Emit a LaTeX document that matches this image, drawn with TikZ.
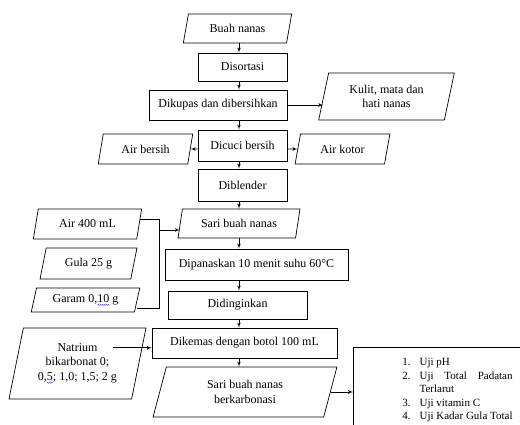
\documentclass[tikz,border=0pt]{standalone}
\usepackage{fontspec}
\setmainfont{Liberation Serif}
\usepackage{tikz}
\usetikzlibrary{shapes.geometric}
\usetikzlibrary{arrows}
\usetikzlibrary{calc}
\usetikzlibrary{decorations.pathmorphing}
\newsavebox{\squigbox}
\newcommand{\squig}[1]{\sbox{\squigbox}{#1}\rlap{\tikz[baseline=0pt]
    \draw[blue!80,line width=0.4pt,decorate,decoration={snake,amplitude=0.5pt,segment length=2pt}]
    (0pt,-2.5pt) -- (\wd\squigbox,-2.5pt);}\usebox{\squigbox}}

\begin{document}
\begin{tikzpicture}[x=1pt,y=-1pt,line width=0.7pt]

\tikzset{
    procbox/.style={rectangle,draw,font=\boxfont,inner sep=2pt},
    databox/.style={trapezium,trapezium left angle=76,trapezium right angle=104,
        trapezium stretches=true,draw,font=\boxfont,align=center,inner sep=2pt},
    edge/.style={->,> = latex'}
}
% variables
\def\boxfont{\fontsize{12}{14.5}\selectfont}
\def\listfont{\fontsize{11}{13.5}\selectfont}

\useasboundingbox (0,0) rectangle (520,425);
\clip (0,0) rectangle (520,425);
\coordinate (spine) at (239,0);

% ----------- main column ----------- %
\node[databox, minimum width=109pt, minimum height=29pt] (buah) at (237.5,28.5) {Buah nanas};
\node[procbox, minimum width=89pt, minimum height=28pt] (disortasi) at (242.5,67) {Disortasi};
\node[procbox, minimum width=138pt, minimum height=30pt] (dikupas) at (218,105) {Dikupas dan dibersihkan};
\node[procbox, minimum width=89pt, minimum height=31pt] (dicuci) at (242.5,145.5) {Dicuci bersih};
\node[procbox, minimum width=89pt, minimum height=32pt] (diblender) at (242.5,185) {Diblender};
\node[databox, minimum width=122pt, minimum height=29pt] (sari) at (239,223.5) {Sari buah nanas};
\node[procbox, minimum width=183pt, minimum height=31pt] (dipanaskan) at (256.5,264.5) {Dipanaskan 10 menit suhu 60°C};
\node[procbox, minimum width=139pt, minimum height=28pt] (didinginkan) at (237.5,305) {Didinginkan};
\node[procbox, minimum width=185pt, minimum height=30pt] (dikemas) at (244.5,343) {Dikemas dengan botol 100 mL};
\node[databox, minimum width=184pt, minimum height=50pt] (sariberk) at (245,392) {Sari buah nanas\\berkarbonasi};

% ----------- side boxes ----------- %
\node[databox, minimum width=137pt, minimum height=47pt] (kulit) at (386.5,96.5) {Kulit, mata dan\\hati nanas};
\node[databox, minimum width=95pt, minimum height=30pt] (airbersih) at (145.5,149) {Air bersih};
\node[databox, minimum width=95pt, minimum height=30pt] (airkotor) at (342.5,149) {Air kotor};
\node[databox, minimum width=109pt, minimum height=30pt] (air400) at (87.5,224) {Air 400 mL};
\node[databox, minimum width=97pt, minimum height=31pt] (gula) at (88.5,263.5) {Gula 25 g};
\node[databox, minimum width=109pt, minimum height=24pt] (garam) at (85.5,300) {Garam 0,\squig{10} g};
\node[databox, minimum width=137pt, minimum height=71pt] (natrium) at (77.5,363.5) {Natrium\\bikarbonat 0;\\0,\squig{5}; 1,0; 1,5; 2 g};

% ----------- analyses ----------- %
\node[procbox, anchor=north west, minimum width=200pt, minimum height=120pt] (uji) at (353,347) {};
\node[anchor=north west, inner sep=0pt, font=\listfont] (ujilist) at (402,356) {%
    \begin{tabular}{@{}l@{\hspace{9pt}}p{93pt}@{}}
    1. & Uji pH\\
    2. & Uji\hfill Total\hfill Padatan\newline Terlarut\\
    3. & Uji vitamin C\\
    4. & Uji Kadar Gula Total
    \end{tabular}};

% vertical edges
\draw[edge] (buah.south -| spine) -- (disortasi.north -| spine);
\draw[edge] (disortasi.south -| spine) -- (dikupas.north -| spine);
\draw[edge] (dikupas.south -| spine) -- (dicuci.north -| spine);
\draw[edge] (dicuci.south -| spine) -- (diblender.north -| spine);
\draw[edge] (diblender.south -| spine) -- (sari.north -| spine);
\draw[edge] (sari.south -| spine) -- (dipanaskan.north -| spine);
\draw[edge] (dipanaskan.south -| spine) -- (didinginkan.north -| spine);
\draw[edge] (didinginkan.south -| spine) -- (dikemas.north -| spine);
\draw[edge] (dikemas.south -| spine) -- (sariberk.north -| spine);

% horizontal edges
\draw[edge] (dikupas.east) -- (dikupas.east -| kulit.west);
\draw[edge] (dicuci.west |- airbersih) -- (airbersih);
\draw[edge] (dicuci.east |- airkotor) -- (airkotor);
\draw[edge] (sariberk.east) -- (sariberk.east -| uji.west);

% additions
\coordinate (bustop) at (159,219);
\coordinate (busbot) at (159,308);
\coordinate (busmid) at (159,230);
\draw (air400.east |- bustop) -- (bustop) -- (busbot) -- (garam.east |- busbot);
\draw[edge] (busmid) -- (sari.west |- busmid);
\coordinate (natout) at ($(natrium.north east)!0.28!(natrium.south east)$);
\draw[edge] (natout) -- (natout -| dikemas.west);

\end{tikzpicture}
\end{document}
